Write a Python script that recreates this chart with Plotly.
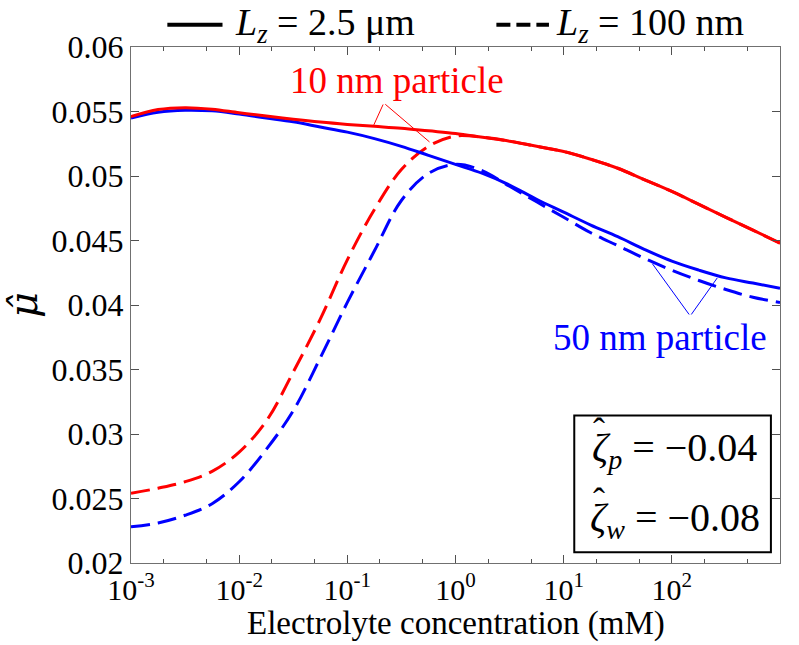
import plotly.graph_objects as go

# Electrolyte concentration (mM)
conc_mM = [0.001, 0.00178, 0.00316, 0.00562, 0.01, 0.0178, 0.0316, 0.0562,
           0.1, 0.178, 0.316, 0.562, 1, 1.78, 3.16, 5.62,
           10, 17.8, 31.6, 56.2, 100, 178, 316, 562, 1000]

# 10 nm particle, Lz = 2.5 um (solid red)
mu_10nm_25um = [0.0546, 0.05515, 0.0553, 0.05518, 0.0549, 0.05465, 0.0544, 0.05418,
                0.0540, 0.05385, 0.0537, 0.0535, 0.0533, 0.0530, 0.0527, 0.0523,
                0.0519, 0.0513, 0.0506, 0.0497, 0.0488, 0.0478, 0.0468, 0.0458, 0.0448]
# 50 nm particle, Lz = 2.5 um (solid blue)
mu_50nm_25um = [0.0545, 0.05495, 0.0551, 0.05505, 0.0548, 0.0545, 0.0542, 0.0538,
                0.0534, 0.0529, 0.0523, 0.0516, 0.0509, 0.0502, 0.0493, 0.0482,
                0.0472, 0.0462, 0.0453, 0.0443, 0.0434, 0.0427, 0.0421, 0.0417, 0.0413]
# 10 nm particle, Lz = 100 nm (dashed red)
mu_10nm_100nm = [0.0254, 0.0258, 0.0263, 0.0271, 0.0286, 0.0310, 0.0348, 0.0389,
                 0.0435, 0.0474, 0.0505, 0.0523, 0.0531, 0.0530, 0.0527, 0.0523,
                 0.0519, 0.0513, 0.0506, 0.0497, 0.0488, 0.0478, 0.0468, 0.0458, 0.0448]
# 50 nm particle, Lz = 100 nm (dashed blue)
mu_50nm_100nm = [0.0228, 0.0231, 0.0237, 0.0246, 0.0263, 0.0288, 0.0318, 0.0359,
                 0.0402, 0.0442, 0.0481, 0.0502, 0.0509, 0.0504, 0.0492, 0.0480,
                 0.0468, 0.0456, 0.0446, 0.0436, 0.0427, 0.0419, 0.0412, 0.0406, 0.0402]

x_tickvals = [0.001, 0.01, 0.1, 1, 10, 100, 1000]
x_ticktext = ["10<sup>-3</sup>", "10<sup>-2</sup>", "10<sup>-1</sup>", "10<sup>0</sup>",
              "10<sup>1</sup>", "10<sup>2</sup>", "10<sup>3</sup>"]
y_tickvals = [0.02, 0.025, 0.03, 0.035, 0.04, 0.045, 0.05, 0.055, 0.06]
y_ticktext = ["0.02", "0.025", "0.03", "0.035", "0.04", "0.045", "0.05", "0.055", "0.06"]

x_title = "Electrolyte concentration (mM)"
legend_labels = ["<i>L</i><sub><i>z</i></sub> = 2.5 μm", "<i>L</i><sub><i>z</i></sub> = 100 nm"]
zeta_labels = ["<i>ζ</i><sub><i>p</i></sub> = −0.04", "<i>ζ</i><sub><i>w</i></sub> = −0.08"]

FONT = "Liberation Serif"
HATFONT = "DejaVu Serif"
RED = "#ff0000"
BLUE = "#0000ff"
DASH = "19px,8px"

fig = go.Figure()
fig.add_trace(go.Scatter(x=conc_mM, y=mu_10nm_100nm, mode="lines", showlegend=False,
                         line=dict(color=RED, width=3, dash=DASH, shape="spline")))
fig.add_trace(go.Scatter(x=conc_mM, y=mu_50nm_100nm, mode="lines", showlegend=False,
                         line=dict(color=BLUE, width=3, dash=DASH, shape="spline")))
fig.add_trace(go.Scatter(x=conc_mM, y=mu_50nm_25um, mode="lines", showlegend=False,
                         line=dict(color=BLUE, width=3, shape="spline")))
fig.add_trace(go.Scatter(x=conc_mM, y=mu_10nm_25um, mode="lines", showlegend=False,
                         line=dict(color=RED, width=3, shape="spline")))

axis_common = dict(showgrid=False, zeroline=False, showline=True, linecolor="#707070",
                   linewidth=1, mirror="allticks", ticks="inside", ticklen=8,
                   tickcolor="#505050")

fig.update_xaxes(type="log", range=[-3, 3], tickvals=x_tickvals, ticktext=x_ticktext,
                 tickfont=dict(family=FONT, size=30, color="black"),
                 minor=dict(ticks="inside", ticklen=4, tickcolor="#505050"),
                 **axis_common)
fig.update_yaxes(range=[0.02, 0.06], tickvals=y_tickvals, ticktext=y_ticktext,
                 tickfont=dict(family=FONT, size=32, color="black"),
                 title=dict(text=f"<span style='font-family:{HATFONT}'><i>μ̂</i></span>",
                            font=dict(family=FONT, size=40, color="black"), standoff=12),
                 **axis_common)

# x-axis title placed just under the tick labels
fig.add_annotation(x=0.5, y=-0.117, xref="paper", yref="paper", xanchor="center",
                   yanchor="middle", showarrow=False, text=x_title,
                   font=dict(family=FONT, size=33, color="black"))

# legend keys (layout decoration in paper coordinates)
key_y = 1.043
fig.add_shape(type="line", xref="paper", yref="paper", x0=0.056, x1=0.141, y0=key_y, y1=key_y,
              line=dict(color="black", width=4))
fig.add_shape(type="line", xref="paper", yref="paper", x0=0.563, x1=0.644, y0=key_y, y1=key_y,
              line=dict(color="black", width=4, dash="14px,6px"))
fig.add_annotation(x=0.157, y=key_y, xref="paper", yref="paper", xanchor="left", yanchor="middle",
                   text=legend_labels[0], showarrow=False,
                   font=dict(family=FONT, size=38, color="black"))
fig.add_annotation(x=0.652, y=key_y, xref="paper", yref="paper", xanchor="left", yanchor="middle",
                   text=legend_labels[1], showarrow=False,
                   font=dict(family=FONT, size=38, color="black"))

# leader lines + labels
lc = dict(showarrow=True, arrowhead=0, arrowwidth=1, xref="x", yref="y", axref="x", ayref="y")
fig.add_annotation(x=-0.755, y=0.05396, ax=-0.663, ay=0.05566, text="", arrowcolor=RED, **lc)
fig.add_annotation(x=-0.240, y=0.05264, ax=-0.663, ay=0.05566, text="", arrowcolor=RED, **lc)
fig.add_annotation(x=1.82, y=0.0432, ax=2.17, ay=0.03915, text="", arrowcolor=BLUE, **lc)
fig.add_annotation(x=2.42, y=0.0421, ax=2.17, ay=0.03915, text="", arrowcolor=BLUE, **lc)

fig.add_annotation(x=-0.544, y=0.05744, xref="x", yref="y", text="10 nm particle",
                   showarrow=False, font=dict(family=FONT, size=37, color=RED))
fig.add_annotation(x=1.89, y=0.0375, xref="x", yref="y", text="50 nm particle",
                   showarrow=False, font=dict(family=FONT, size=37, color=BLUE))

# zeta box
fig.add_shape(type="rect", xref="paper", yref="paper", x0=0.683, x1=0.986, y0=0.021, y1=0.286,
              line=dict(color="black", width=2), fillcolor="white", layer="above")
for lab, yy in zip(zeta_labels, [0.219, 0.083]):
    fig.add_annotation(x=0.838, y=yy, xref="paper", yref="paper", xanchor="center",
                       yanchor="middle", showarrow=False, text=lab,
                       font=dict(family=FONT, size=40, color="black"))
    # circumflex accent over zeta
    fig.add_annotation(x=(598 - 128) / 652, y=yy + 0.037, xref="paper", yref="paper",
                       xanchor="center", yanchor="middle", showarrow=False, text="ˆ",
                       font=dict(family=FONT, size=36, color="black"))

fig.update_layout(
    width=799, height=645,
    margin=dict(l=128, r=19, t=47, b=82),
    paper_bgcolor="white", plot_bgcolor="white",
    font=dict(family=FONT, color="black"),
    showlegend=False,
)

fig.write_html("out.html")
